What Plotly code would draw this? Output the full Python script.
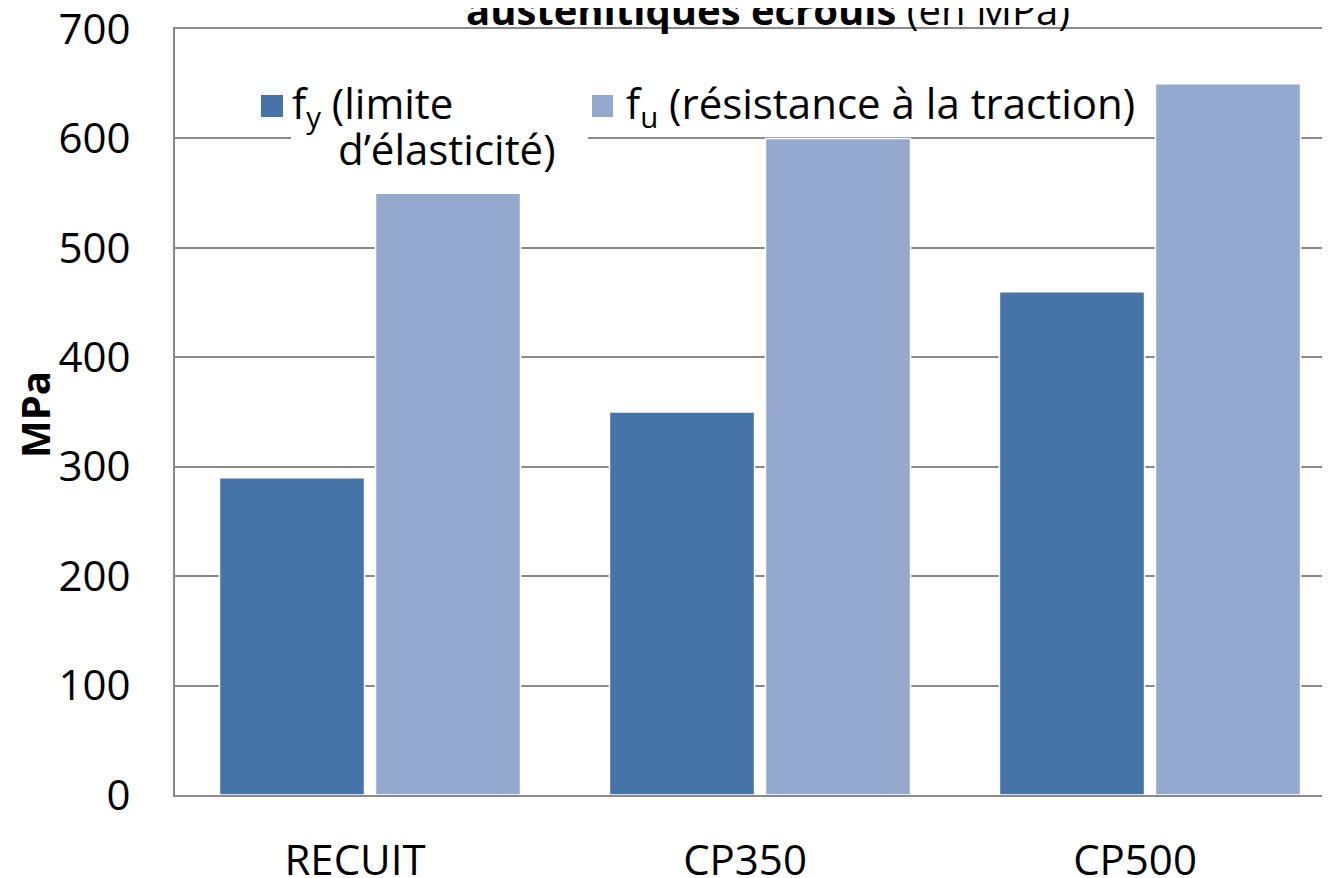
import plotly.graph_objects as go

# data
categories = ['RECUIT', 'CP350', 'CP500']
fy_values = [290, 350, 460]
fu_values = [550, 600, 650]
y_ticks = [0, 100, 200, 300, 400, 500, 600, 700]

FY_COLOR = '#4674A8'
FU_COLOR = '#95A9CF'
GRID = '#8A8A8A'
FONT = 'Open Sans'
FS = 42

W, H = 1330, 878
OFF = 8  # page body margin shifts the figure
# plot area in screen pixels: left 175, top 29, bottom 795
L, T = 175 - OFF, 29 - OFF
B = H - (795 - OFF)
CAT_PX = 390  # width of one category


def px_x(px):
    # screen pixel -> paper x
    return (px - OFF - L) / (W - L)


def px_y(py):
    # screen pixel -> paper y
    return (H - B - (py - OFF)) / (H - B - T)


fig = go.Figure()
fig.add_trace(go.Bar(
    x=categories, y=fy_values, name='f<sub>y</sub> (limite d’élasticité)',
    marker=dict(color=FY_COLOR, line=dict(color='white', width=1.5)),
    showlegend=False
))
fig.add_trace(go.Bar(
    x=categories, y=fu_values, name='f<sub>u</sub> (résistance à la traction)',
    marker=dict(color=FU_COLOR, line=dict(color='white', width=1.5)),
    showlegend=False
))

# legend drawn by hand, Excel style
shapes = [
    dict(type='rect', xref='paper', yref='paper', layer='above',
         x0=px_x(291), x1=px_x(588), y0=px_y(178), y1=px_y(86),
         fillcolor='white', line=dict(width=0)),
    dict(type='rect', xref='paper', yref='paper', layer='above',
         x0=px_x(261), x1=px_x(283), y0=px_y(117), y1=px_y(95),
         fillcolor=FY_COLOR, line=dict(width=0)),
    dict(type='rect', xref='paper', yref='paper', layer='above',
         x0=px_x(592), x1=px_x(613), y0=px_y(117), y1=px_y(95),
         fillcolor=FU_COLOR, line=dict(width=0)),
]

annotations = [
    dict(text='f<sub>y</sub> (limite', x=px_x(290), y=px_y(105),
         xanchor='left', yanchor='middle'),
    dict(text='d’élasticité)', x=px_x(336), y=px_y(148),
         xanchor='left', yanchor='middle'),
    dict(text='f<sub>u</sub> (résistance à la traction)', x=px_x(624), y=px_y(105),
         xanchor='left', yanchor='middle'),
    dict(text='<b>austénitiques écrouis</b> (en MPa)', x=px_x(768), y=px_y(9),
         xanchor='center', yanchor='middle'),
    dict(text='<b>MPa</b>', x=px_x(34), y=px_y(415), textangle=-90,
         xanchor='center', yanchor='middle'),
]
for a in annotations:
    a.update(xref='paper', yref='paper', showarrow=False,
             font=dict(family=FONT, size=FS, color='black'))
annotations[-2]['font']['size'] = 40
annotations[-1]['font']['size'] = 40

fig.update_layout(
    width=W, height=H,
    margin=dict(l=L, r=0, t=T, b=B),
    paper_bgcolor='white', plot_bgcolor='white',
    barmode='group', bargap=0.2, bargroupgap=0.07,
    font=dict(family=FONT, size=FS, color='black'),
    shapes=shapes, annotations=annotations,
    showlegend=False,
)
fig.update_xaxes(
    type='category', range=[-0.5, -0.5 + (W - L) / CAT_PX], automargin=False,
    showline=True, mirror=True, linecolor=GRID, linewidth=2,
    showgrid=False, ticks='', ticklabelstandoff=28, ticklabelshift=-15,
    tickfont=dict(family=FONT, size=FS, color='black'),
)
fig.update_yaxes(
    range=[0, 700], tickvals=y_ticks, automargin=False,
    showline=True, linecolor=GRID, linewidth=2,
    showgrid=True, gridcolor=GRID, gridwidth=1.5,
    zeroline=False, ticks='', ticklabelstandoff=34,
    ticklabeloverflow='allow',
    tickfont=dict(family=FONT, size=FS, color='black'),
)

fig.write_html('out.html')
